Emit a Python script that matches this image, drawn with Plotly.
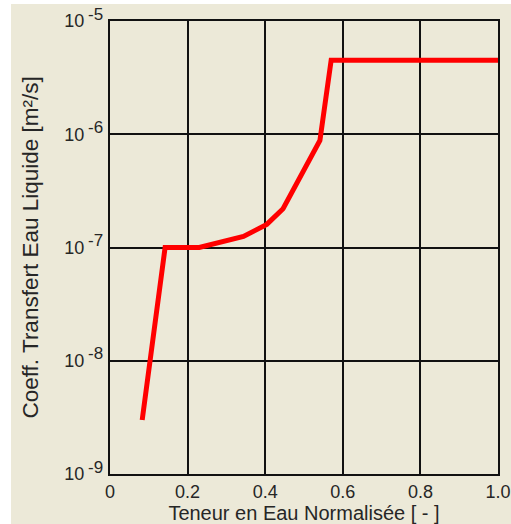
import plotly.graph_objects as go

# Normalised water content vs. liquid water transfer coefficient
teneur = [0.083, 0.142, 0.23, 0.344, 0.404, 0.446, 0.541, 0.570, 1.0]
coeff = [3.0e-9, 1.0e-7, 1.0e-7, 1.25e-7, 1.6e-7, 2.2e-7, 8.8e-7, 4.5e-6, 4.5e-6]

x_ticks = [0, 0.2, 0.4, 0.6, 0.8, 1.0]
x_labels = ["0", "0.2", "0.4", "0.6", "0.8", "1.0"]
y_exps = [-9, -8, -7, -6, -5]
y_ticks = [10.0 ** e for e in y_exps]

BG = "#ECE9D8"
FONT = "Liberation Sans, Arial, sans-serif"
TXT = "#262626"

fig = go.Figure()
fig.add_trace(go.Scatter(
    x=teneur, y=coeff, mode="lines",
    line=dict(color="#FF0000", width=5),
    showlegend=False,
))

W, H = 511, 524
ml, mr, mt, mb = 110, 13, 21, 50
pw, ph = W - ml - mr, H - mt - mb

fig.update_layout(
    width=W, height=H,
    margin=dict(l=ml, r=mr, t=mt, b=mb, pad=0),
    paper_bgcolor=BG, plot_bgcolor=BG,
    font=dict(family=FONT, size=18, color=TXT),
    xaxis=dict(
        range=[0, 1], tickvals=x_ticks, ticktext=x_labels,
        showgrid=True, gridcolor="#111111", gridwidth=1.8,
        showline=True, linecolor="#111111", linewidth=2, mirror=True,
        zeroline=False, ticks="", ticklen=0,
        tickfont=dict(size=18, family=FONT, color=TXT),
        title=dict(text="Teneur en Eau Normalisée [ - ]",
                   font=dict(size=20, family=FONT, color=TXT), standoff=6),
        automargin=False,
    ),
    yaxis=dict(
        type="log", range=[-9, -5], tickvals=y_ticks,
        ticktext=["10"] * len(y_ticks),
        showgrid=True, gridcolor="#111111", gridwidth=1.8,
        showline=True, linecolor="#111111", linewidth=2, mirror=True,
        zeroline=False, ticks="", ticklen=0, ticklabelstandoff=20,
        tickfont=dict(size=18, family=FONT, color=TXT),
        automargin=False,
    ),
)

# Decade exponents, written at full size next to each "10"
for e in y_exps:
    fig.add_annotation(
        text=str(e), xref="paper", yref="y",
        x=(87 - ml) / pw, y=e, xanchor="left", yanchor="middle",
        yshift=7, showarrow=False, borderpad=0,
        font=dict(size=17, family=FONT, color=TXT),
    )

# Vertical axis title
fig.add_annotation(
    text="Coeff. Transfert Eau Liquide [m²/s]",
    xref="paper", yref="paper",
    x=(30 - ml) / pw, y=0.5,
    xanchor="center", yanchor="middle", textangle=-90, showarrow=False,
    font=dict(size=22.5, family=FONT, color=TXT),
)

# White strips along the left and top edges of the window
fig.add_shape(type="rect", xref="paper", yref="paper", layer="above",
              x0=-ml / pw, x1=(11 - ml) / pw, y0=-mb / ph, y1=1 + mt / ph,
              line=dict(width=0), fillcolor="white")
fig.add_shape(type="rect", xref="paper", yref="paper", layer="above",
              x0=-ml / pw, x1=1 + mr / pw, y0=1 + (mt - 4) / ph, y1=1 + mt / ph,
              line=dict(width=0), fillcolor="white")

fig.write_html("out.html")
